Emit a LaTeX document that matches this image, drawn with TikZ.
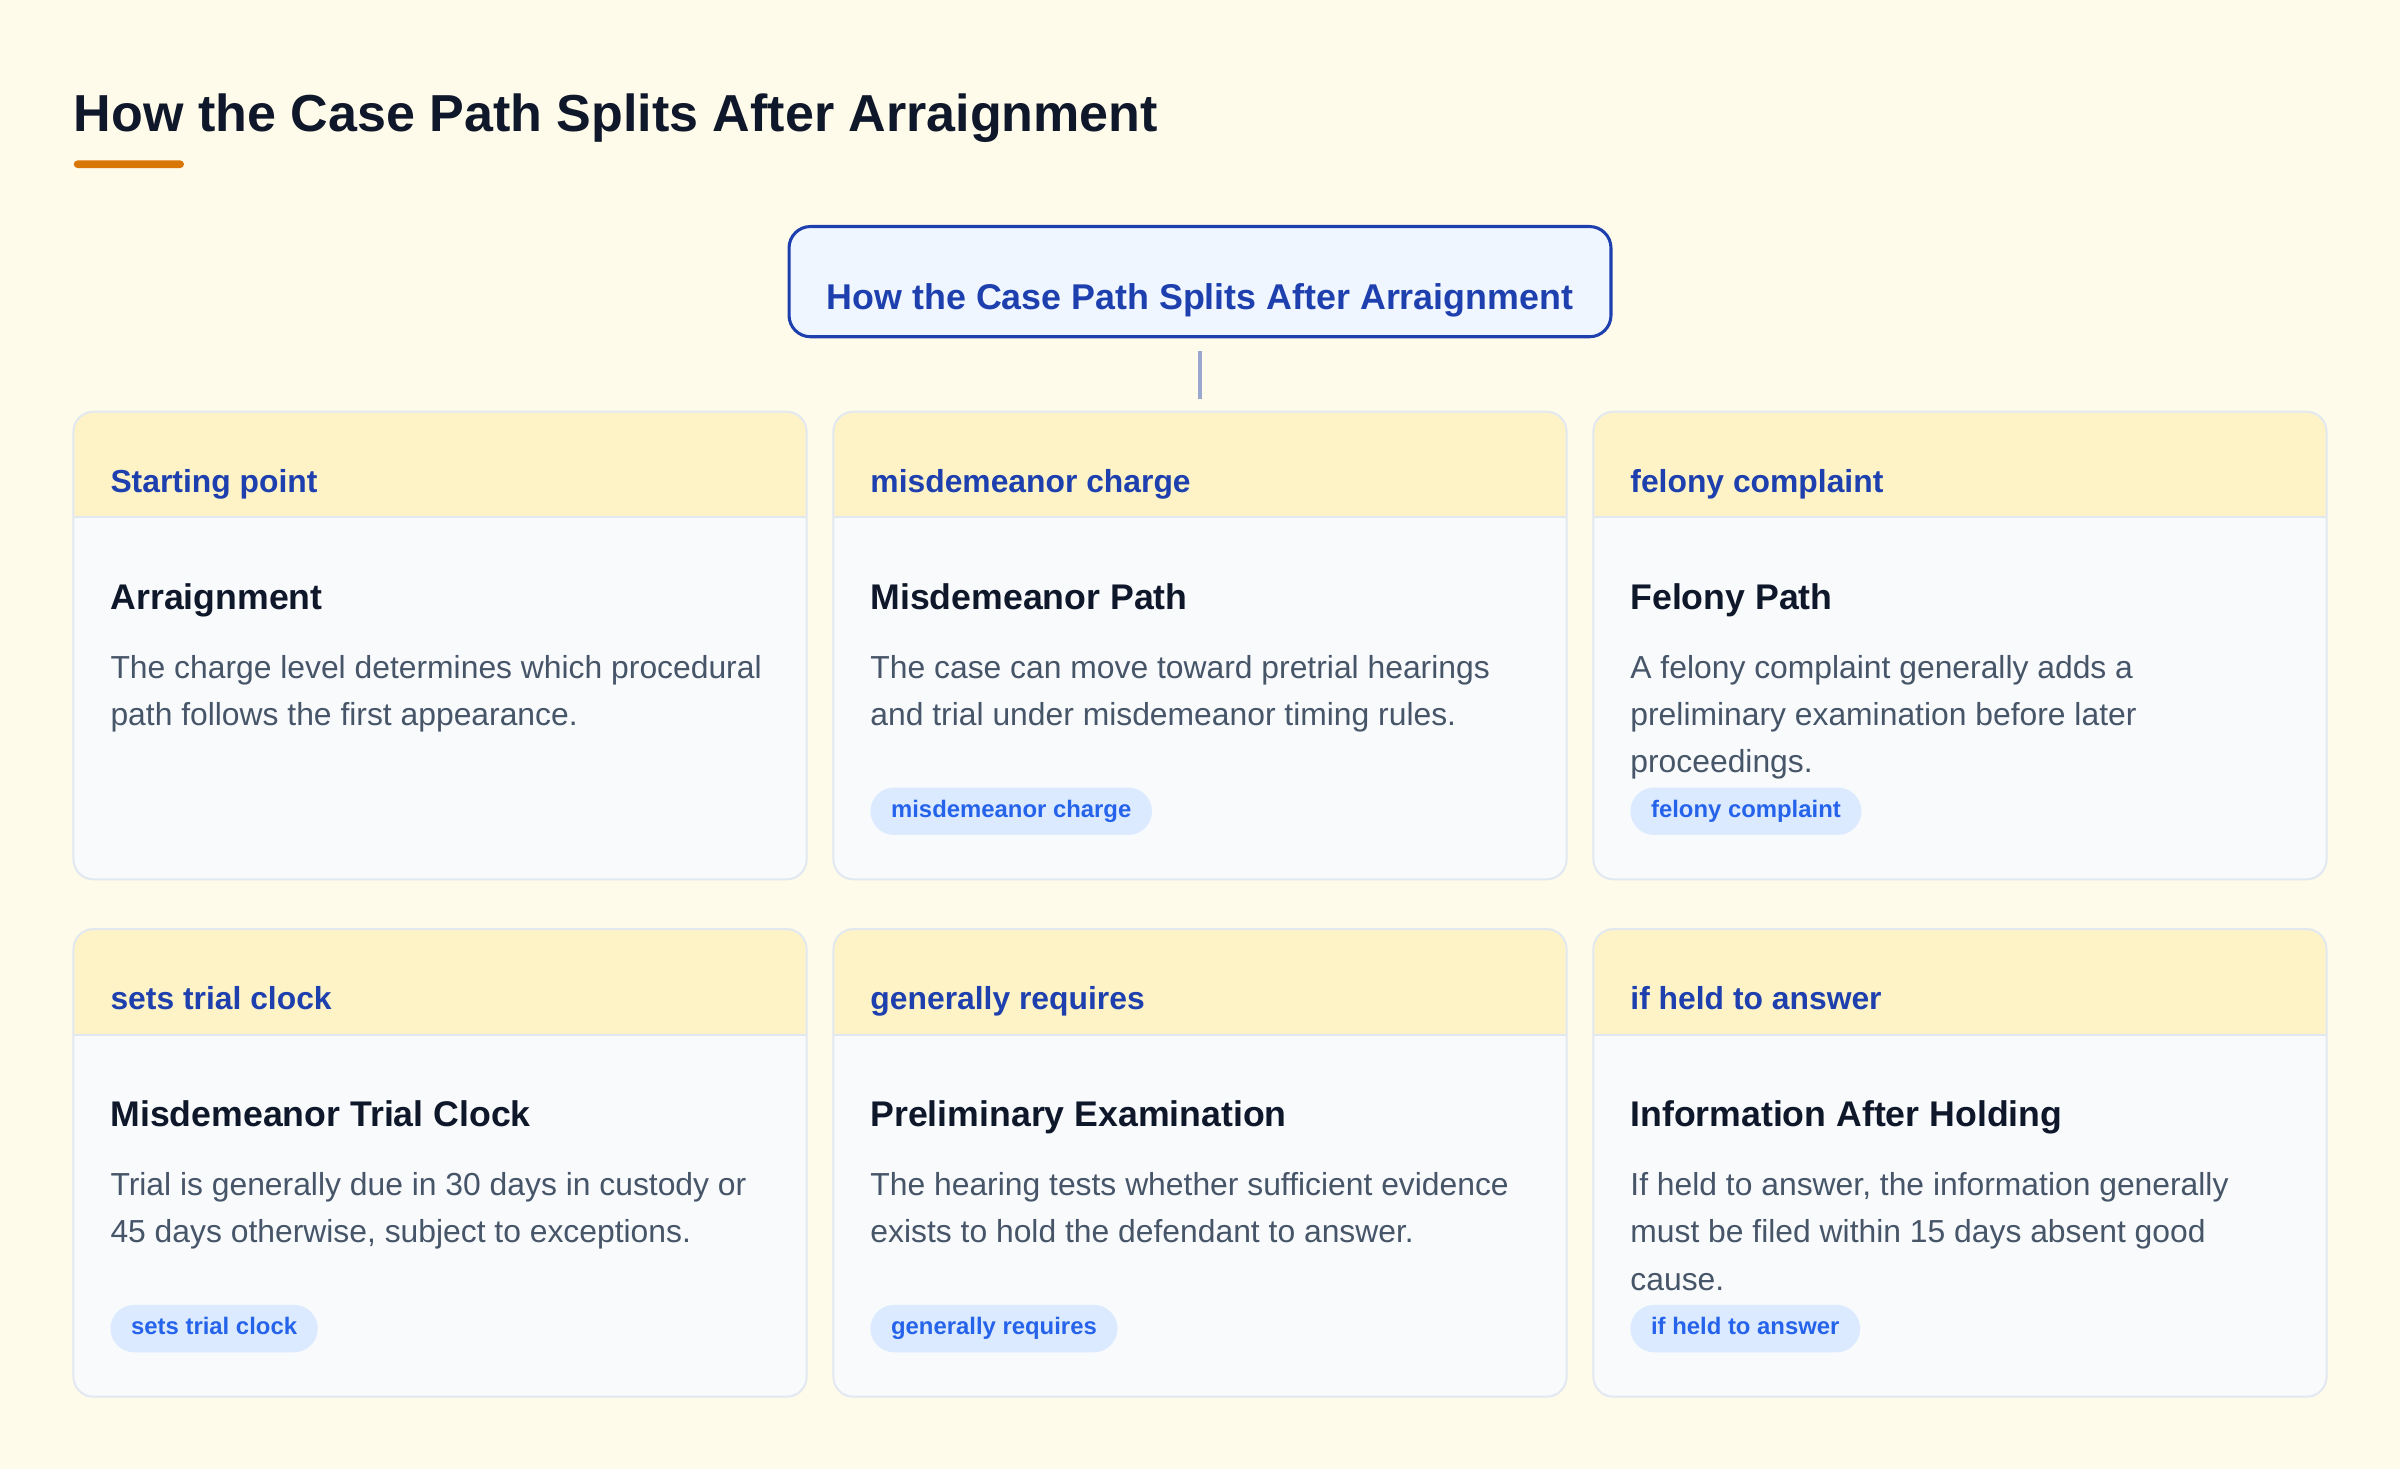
\documentclass[tikz,border=0pt]{standalone}
\usepackage{fontspec}
\setmainfont{Liberation Sans}
\usetikzlibrary{calc}
\definecolor{bgc}{HTML}{FFFBEA}
\definecolor{hdrc}{HTML}{FEF3C7}
\definecolor{bodyc}{HTML}{F8FAFC}
\definecolor{linec}{HTML}{E2E8F0}
\definecolor{bluec}{HTML}{1E40AF}
\definecolor{titlec}{HTML}{0F172A}
\definecolor{textc}{HTML}{475569}
\definecolor{tagfill}{HTML}{DBEAFE}
\definecolor{tagtext}{HTML}{2563EB}
\definecolor{topfill}{HTML}{EFF6FF}
\definecolor{connc}{HTML}{9AA8D0}
\definecolor{barc}{HTML}{D97706}
\tikzset{
  cardbox/.style={fill=bodyc, rounded corners=13pt, inner sep=0pt, outer sep=0pt, minimum width=479pt, minimum height=305.5pt},
  cardline/.style={draw=linec, line width=1.3pt},
  hdrtext/.style={inner sep=0pt, text=bluec, font=\bfseries\fontsize{20.8}{25}\selectfont},
  cardtitle/.style={inner sep=0pt, text=titlec, font=\bfseries\fontsize{23.3}{28}\selectfont},
  bodytext/.style={inner sep=0pt, text=textc, font=\fontsize{20.8}{31}\selectfont},
  tagbox/.style={fill=tagfill, text=tagtext, font=\bfseries\fontsize{15.6}{18}\selectfont, inner xsep=13.5pt, inner ysep=0pt, text height=11.5pt, text depth=3.4pt, minimum height=31pt, rounded corners=15.5pt},
  topbox/.style={draw=bluec, line width=2pt, fill=topfill, rounded corners=14pt, minimum width=537pt, minimum height=72pt, inner sep=0pt},
  conn/.style={draw=connc, line width=2.4pt},
}
\newcommand\mkcard[7]{%
  \node[cardbox, anchor=north west] (#1) at (#2,#3) {};
  \begin{scope}
    \clip[rounded corners=13pt] (#1.north west) rectangle (#1.south east);
    \fill[hdrc] (#1.north west) rectangle ([yshift=-69pt]#1.north east);
  \end{scope}
  \draw[cardline] ([yshift=-69pt]#1.north west) -- ([yshift=-69pt]#1.north east);
  \draw[cardline, rounded corners=13pt] (#1.north west) rectangle (#1.south east);
  \node[hdrtext, anchor=base west] (#1-h) at ($(#1.north west)+(24,52.7)$) {#4};
  \node[cardtitle, anchor=base west] (#1-ti) at ($(#1.north west)+(24,129)$) {#5};
  \foreach \l [count=\i] in {#6} {
    \node[bodytext, anchor=base west] (#1-l\i) at ($(#1.north west)+(24,{174+31*(\i-1)})$) {\l};
  }
  \if\relax\detokenize{#7}\relax\else
    \node[tagbox, anchor=west] (#1-t) at ($(#1.north west)+(24,261)$) {#7};
  \fi
}
\begin{document}
\begin{tikzpicture}[x=1pt, y=-1pt]
\useasboundingbox (0,0) rectangle (1568,960);
\fill[bgc] (0,0) rectangle (1568,960);

\node[anchor=base west, inner sep=0pt, text=titlec, font=\bfseries\fontsize{34}{40}\selectfont] (ttl) at (48,86) {How the Case Path Splits After Arraignment};
\node[anchor=north west, fill=barc, minimum width=72pt, minimum height=5pt, inner sep=0pt, rounded corners=2.5pt] (bar) at (48,104.6) {};

\node[topbox] (tb) at (784,184) {};
\node[anchor=base, inner sep=0pt, text=bluec, font=\bfseries\fontsize{23.4}{28}\selectfont] (tbt) at (784,202) {How the Case Path Splits After Arraignment};

\mkcard{c1}{48}{269}{Starting point}{Arraignment}{{The charge level determines which procedural},{path follows the first appearance.}}{}
\mkcard{c2}{544.5}{269}{misdemeanor charge}{Misdemeanor Path}{{The case can move toward pretrial hearings},{and trial under misdemeanor timing rules.}}{misdemeanor charge}
\mkcard{c3}{1041}{269}{felony complaint}{Felony Path}{{A felony complaint generally adds a},{preliminary examination before later},{proceedings.}}{felony complaint}
\mkcard{c4}{48}{607}{sets trial clock}{Misdemeanor Trial Clock}{{Trial is generally due in 30 days in custody or},{45 days otherwise, subject to exceptions.}}{sets trial clock}
\mkcard{c5}{544.5}{607}{generally requires}{Preliminary Examination}{{The hearing tests whether sufficient evidence},{exists to hold the defendant to answer.}}{generally requires}
\mkcard{c6}{1041}{607}{if held to answer}{Information After Holding}{{If held to answer, the information generally},{must be filed within 15 days absent good},{cause.}}{if held to answer}

\draw[conn, shorten <=8pt, shorten >=8.3pt] (tb.south) -- (tb.south |- c2.north);
\end{tikzpicture}
\end{document}
